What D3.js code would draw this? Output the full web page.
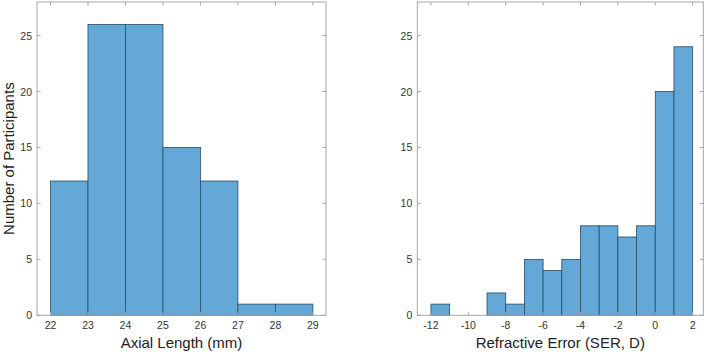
<!DOCTYPE html>
<html><head><meta charset="utf-8">
<script src="https://cdn.jsdelivr.net/npm/d3@7"></script>
<style>body{margin:0;background:#fff}svg{display:block}text{font-family:"Liberation Sans",Arial,Helvetica,sans-serif}</style>
</head><body><svg id="c" width="709" height="355"></svg>
<script>
const axialBinStarts = [22,23,24,25,26,27,28];
const axialCounts = [12,26,26,15,12,1,1];
const axialTicks = [22,23,24,25,26,27,28,29];
const serBinStarts = [-12,-11,-10,-9,-8,-7,-6,-5,-4,-3,-2,-1,0,1];
const serCounts = [1,0,0,2,1,5,4,5,8,8,7,8,20,24];
const serTicks = [-12,-10,-8,-6,-4,-2,0,2];
const yTicks = [0,5,10,15,20,25];
const binWidth = 1;

const svg = d3.select("#c");
const fill = "#64a8d7", edge = "#2c4a62", boxCol = "#a6a6a6", txt = "#333";

function panel(opts){
  const {x0,x1,y0,y1,xDomain,bins,counts,xTicks,xLabel,yLabel} = opts;
  const g = svg.append("g");
  const x = d3.scaleLinear().domain(xDomain).range([x0,x1]);
  const y = d3.scaleLinear().domain([0,28]).range([y1,y0]);
  g.selectAll("rect.bar").data(bins.map((b,i)=>({b,c:counts[i]})).filter(d=>d.c>0))
    .enter().append("rect").attr("class","bar")
    .attr("x",d=>x(d.b)).attr("width",d=>x(d.b+binWidth)-x(d.b))
    .attr("y",d=>y(d.c)).attr("height",d=>y(0)-y(d.c))
    .attr("fill",fill).attr("stroke",edge).attr("stroke-width",0.8);
  g.append("rect").attr("x",x0).attr("y",y0).attr("width",x1-x0).attr("height",y1-y0)
    .attr("fill","none").attr("stroke",boxCol).attr("stroke-width",1);
  const tl = 3.5;
  xTicks.forEach(t=>{
    g.append("line").attr("x1",x(t)).attr("x2",x(t)).attr("y1",y1).attr("y2",y1-tl).attr("stroke",boxCol);
    g.append("line").attr("x1",x(t)).attr("x2",x(t)).attr("y1",y0).attr("y2",y0+tl).attr("stroke",boxCol);
    g.append("text").attr("x",x(t)).attr("y",y1+14).attr("text-anchor","middle")
      .attr("font-size",10.5).attr("fill",txt).text(t);
  });
  yTicks.forEach(t=>{
    g.append("line").attr("x1",x0).attr("x2",x0+tl).attr("y1",y(t)).attr("y2",y(t)).attr("stroke",boxCol);
    g.append("line").attr("x1",x1).attr("x2",x1-tl).attr("y1",y(t)).attr("y2",y(t)).attr("stroke",boxCol);
    g.append("text").attr("x",x0-5).attr("y",y(t)+4).attr("text-anchor","end")
      .attr("font-size",10.5).attr("fill",txt).text(t);
  });
  g.append("text").attr("x",(x0+x1)/2).attr("y",348).attr("text-anchor","middle")
    .attr("font-size",15).attr("fill","#222").text(xLabel);
  if(yLabel){
    g.append("text").attr("transform",`translate(${14},${(y0+y1)/2}) rotate(-90)`)
      .attr("text-anchor","middle").attr("font-size",15).attr("fill","#222").text(yLabel);
  }
}
panel({x0:37,x1:326,y0:2,y1:315.3,xDomain:[21.64,29.35],bins:axialBinStarts,counts:axialCounts,
  xTicks:axialTicks,xLabel:"Axial Length (mm)",yLabel:"Number of Participants"});
panel({x0:417.3,x1:703.3,y0:2,y1:315.3,xDomain:[-12.73,2.57],bins:serBinStarts,counts:serCounts,
  xTicks:serTicks,xLabel:"Refractive Error (SER, D)",yLabel:null});
</script></body></html>
